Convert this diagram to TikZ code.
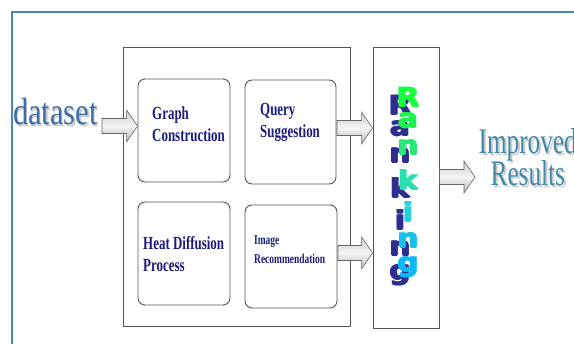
\documentclass[tikz,border=0pt]{standalone}
\usepackage{fontspec}
\setmainfont{Liberation Serif}
\newfontfamily\condserif{Liberation Serif Bold}[FakeStretch=0.7]
\newfontfamily\bigserif{Liberation Serif}[FakeStretch=0.8]
\newfontfamily\resserif{Liberation Serif}[FakeStretch=0.7]
\newfontfamily\rankfont{DejaVu Sans Bold}
\usetikzlibrary{calc}
\definecolor{framebl}{HTML}{4F81BD}
\definecolor{navy}{HTML}{1B1B7D}
\definecolor{dsblue}{HTML}{3B6EA5}
\definecolor{resteal}{HTML}{4189A8}
\definecolor{shadowbl}{HTML}{2E2E8F}
\definecolor{lineg}{HTML}{555555}
\tikzset{
  rbox/.style={draw=lineg, line width=0.9pt, rounded corners=7pt, inner sep=0pt},
  sbox/.style={draw=lineg, line width=0.9pt, inner sep=0pt},
  btxt/.style={text=navy, font=\condserif\fontsize{18.5}{20}\selectfont, anchor=base west, inner sep=0pt},
  stxt/.style={text=navy, font=\condserif\fontsize{13.5}{15}\selectfont, anchor=base west, inner sep=0pt},
  barrow/.style={draw=gray!80!black, line width=0.6pt, top color=gray!40, bottom color=gray!55, middle color=gray!8},
  rkletter/.style={font=\rankfont\fontsize{21}{21}\selectfont, anchor=base, inner sep=0pt},
}
% heavy letter: a few overprinted copies thicken the strokes
\newcommand\rk[1]{\scalebox{1.4}[1.25]{\rlap{\kern-0.6pt#1}\rlap{\kern0.6pt#1}\rlap{\raisebox{0.5pt}{#1}}\rlap{\raisebox{-0.5pt}{#1}}#1}}
\newcommand\blockarr[2]{%
  \draw[barrow] let \p1=(#1), \p2=(#2) in
    (\x1,\y1+7.5pt) -- (\x2-11pt,\y1+7.5pt) -- (\x2-11pt,\y1+16pt) -- (\x2,\y1)
    -- (\x2-11pt,\y1-16pt) -- (\x2-11pt,\y1-7.5pt) -- (\x1,\y1-7.5pt) -- cycle;}
\begin{document}
\begin{tikzpicture}[x=1pt,y=-1pt]
\useasboundingbox (0,0) rectangle (574,344);
% outer blue frame
\draw[framebl, line width=2.2pt] (12,360) -- (12,12) -- (590,12);
% boxes
\node[sbox, minimum width=227pt, minimum height=279pt] (big) at (236.5,186.5) {};
\node[sbox, minimum width=66pt, minimum height=281pt] (rk) at (406,187.5) {};
\node[rbox, minimum width=92pt, minimum height=103pt] (gc) at (184,130.5) {};
\node[rbox, minimum width=91pt, minimum height=104pt] (qs) at (290.5,132) {};
\node[rbox, minimum width=92pt, minimum height=103pt] (hd) at (184,253.5) {};
\node[rbox, minimum width=92pt, minimum height=103pt] (ir) at (291,256.5) {};
% box texts
\node[btxt] (t1) at (152,120) {Graph};
\node[btxt] (t2) at (152,142) {Construction};
\node[btxt] (t3) at (260,116) {Query};
\node[btxt] (t4) at (260,138) {Suggestion};
\node[btxt] (t5) at (143,250) {Heat Diffusion};
\node[btxt] (t6) at (143,272) {Process};
\node[stxt] (t7) at (254,245) {Image};
\node[stxt] (t8) at (254,264) {Recommendation};
% dataset
\node[anchor=base west, inner sep=0pt, text=gray!45, font=\bigserif\fontsize{38}{38}\selectfont] (dss) at (14.5,127) {dataset};
\node[anchor=base west, inner sep=0pt, text=dsblue, font=\bigserif\fontsize{38}{38}\selectfont] (ds) at (13,124.5) {dataset};
% improved results
\node[anchor=base west, inner sep=0pt, text=gray!40, font=\resserif\fontsize{36}{36}\selectfont] (ims) at (480.5,156) {Improved};
\node[anchor=base west, inner sep=0pt, text=resteal, font=\resserif\fontsize{36}{36}\selectfont] (im) at (478.5,153.5) {Improved};
\node[anchor=base west, inner sep=0pt, text=gray!40, font=\resserif\fontsize{36}{36}\selectfont] (rss) at (492.5,188) {Results};
\node[anchor=base west, inner sep=0pt, text=resteal, font=\resserif\fontsize{36}{36}\selectfont] (rs) at (490.5,185.5) {Results};
% Ranking letters: shadows
\foreach \l/\b [count=\i] in {R/107,a/128,n/155,k/190,i/222,n/248,g/272}{
  \node[rkletter, text=shadowbl] (rsh\i) at (400,\b+8) {\rk{\l}};
}
\node[rkletter, text={rgb,255:red,26;green,255;blue,60}] (r1) at (408,107) {\rk{R}};
\node[rkletter, text={rgb,255:red,32;green,240;blue,80}] (r2) at (408,128) {\rk{a}};
\node[rkletter, text={rgb,255:red,40;green,232;blue,120}] (r3) at (408,155) {\rk{n}};
\node[rkletter, text={rgb,255:red,40;green,224;blue,176}] (r4) at (408,190) {\rk{k}};
\node[rkletter, text={rgb,255:red,40;green,208;blue,224}] (r5) at (408,222) {\rk{i}};
\node[rkletter, text={rgb,255:red,24;green,192;blue,240}] (r6) at (408,248) {\rk{n}};
\node[rkletter, text={rgb,255:red,16;green,184;blue,248}] (r7) at (408,272) {\rk{g}};
% arrows
\coordinate (a1s) at (102,126);
\coordinate (a2s) at (337,128);
\coordinate (a3s) at (338,253);
\coordinate (a4e) at (475,177);
\blockarr{a1s}{gc.west |- a1s}
\blockarr{a2s}{rk.west |- a2s}
\blockarr{a3s}{rk.west |- a3s}
\blockarr{rk.east |- a4e}{a4e}
\end{tikzpicture}
\end{document}
